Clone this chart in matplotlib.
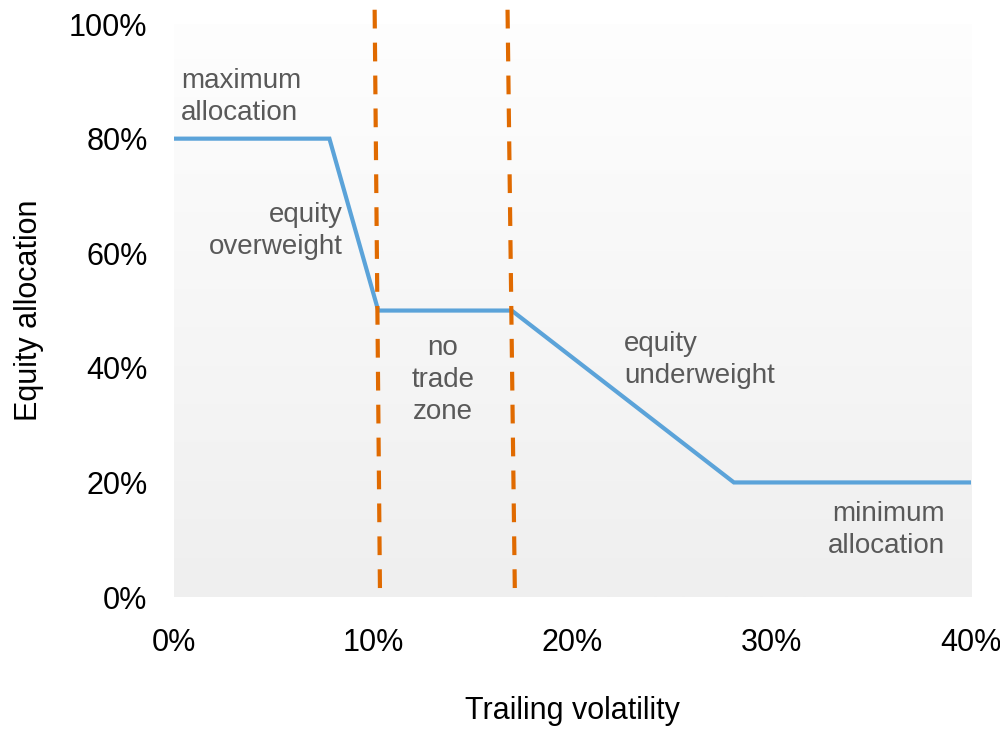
import numpy as np
import matplotlib
matplotlib.use("Agg")
import matplotlib.pyplot as plt
from matplotlib.colors import LinearSegmentedColormap
from matplotlib.ticker import FuncFormatter

plt.rcParams['font.family'] = ['Liberation Sans', 'DejaVu Sans']

# allocation rule (trailing vol %, equity %)
vol = [0.0, 7.8, 10.25, 16.95, 28.1, 40.0]
alloc = [80, 80, 50, 50, 20, 20]

# no-trade zone borders (slightly slanted as drawn in the original)
zone_lo = [(10.07, 102.5), (10.34, 0.0)]
zone_hi = [(16.74, 102.5), (17.11, 0.0)]

xticks = [0, 10, 20, 30, 40]
yticks = [0, 20, 40, 60, 80, 100]

notes = [
    ("maximum\nallocation", 0.35, 87.3, 'left'),
    ("equity\noverweight", 8.45, 63.9, 'right'),
    ("no\ntrade\nzone", 13.5, 37.9, 'center'),
    ("equity\nunderweight", 22.6, 41.4, 'left'),
    ("minimum\nallocation", 38.7, 11.7, 'right'),
]

fig = plt.figure(figsize=(10, 7.29), dpi=100)
ax = fig.add_axes([0.174, 0.181, 0.797, 0.786])

# grey gradient background
cmap = LinearSegmentedColormap.from_list('bg', ['#fefefe', '#efefef'])
grad = np.linspace(0, 1, 256).reshape(-1, 1)
ax.imshow(grad, cmap=cmap, extent=[0, 40, 0, 100.8], aspect='auto', zorder=0, origin='upper')

ax.plot(vol, alloc, color='#5BA3D9', linewidth=3, zorder=3, solid_joinstyle='miter')

for seg in (zone_lo, zone_hi):
    xs = [p[0] for p in seg]
    ys = [p[1] for p in seg]
    ax.plot(xs, ys, color='#E06A00', linewidth=3, dashes=(4.5, 3.4), clip_on=False, zorder=4)

for txt, x, y, ha in notes:
    ax.text(x, y, txt, ha=ha, va='center', multialignment=ha, fontsize=20,
            color='#595959', linespacing=1.3, zorder=5)

ax.set_xlim(0, 40)
ax.set_ylim(0, 100)
ax.set_xticks(xticks)
ax.set_yticks(yticks)
ax.xaxis.set_major_formatter(FuncFormatter(lambda v, p: f"{v:.0f}%"))
ax.yaxis.set_major_formatter(FuncFormatter(lambda v, p: f"{v:.0f}%"))
ax.tick_params(axis='both', length=0, labelsize=22)
ax.tick_params(axis='x', pad=22)
ax.tick_params(axis='y', pad=19)
for s in ax.spines.values():
    s.set_visible(False)

ax.set_xlabel('Trailing volatility', fontsize=22, labelpad=28)
ax.set_ylabel('Equity allocation', fontsize=22, labelpad=18)

fig.savefig('out.png', dpi=100)
